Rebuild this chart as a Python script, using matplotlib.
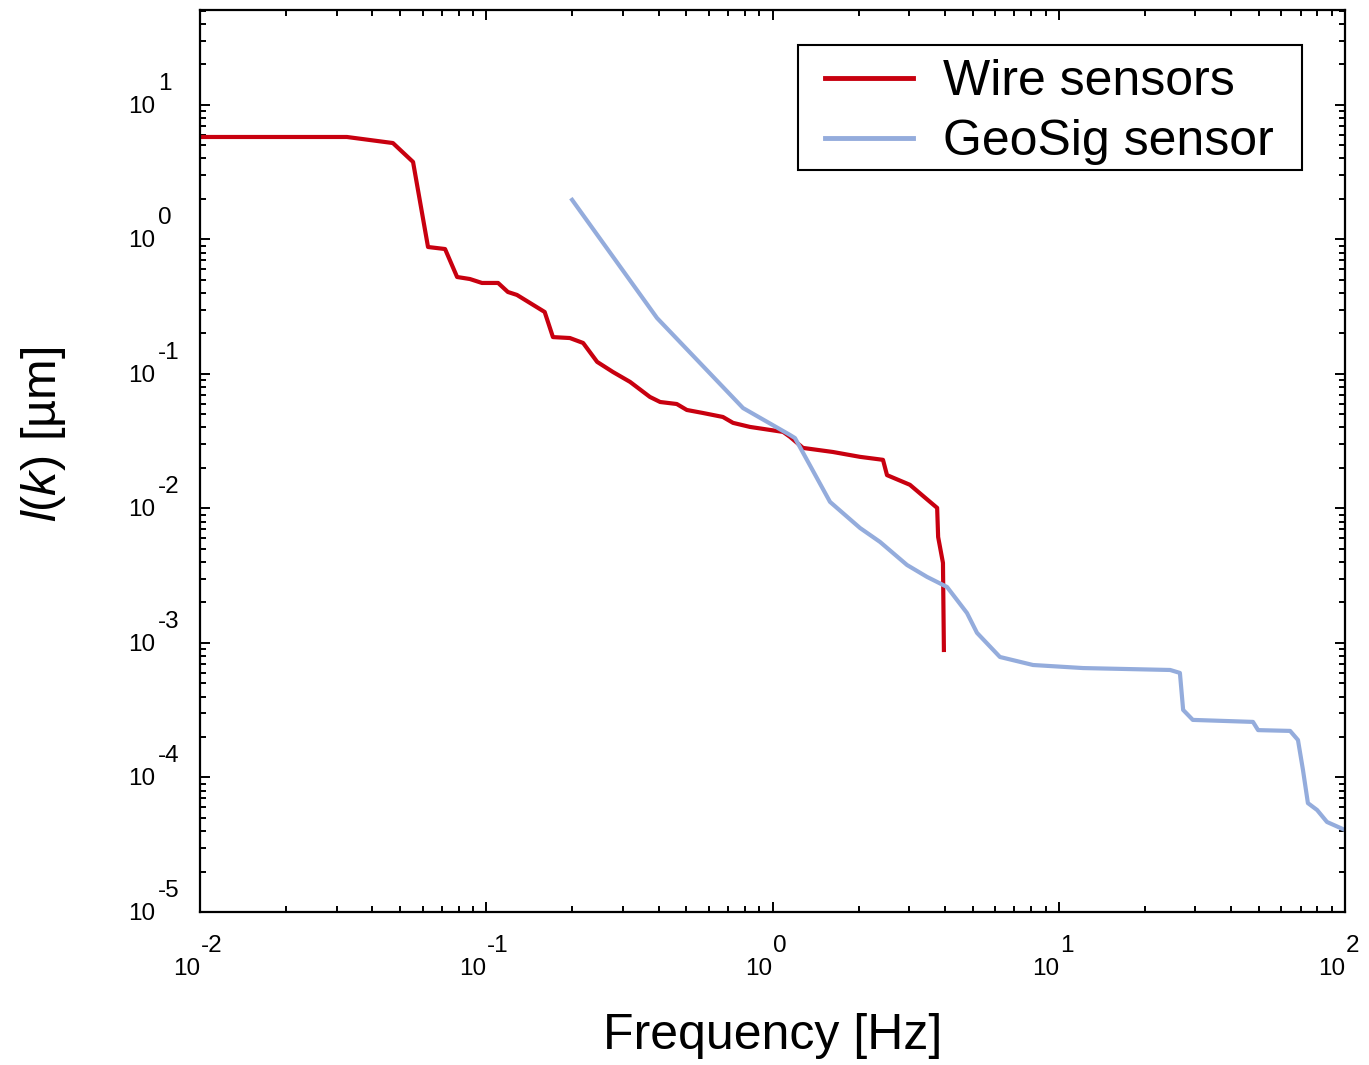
import numpy as np
import matplotlib
matplotlib.use("Agg")
import matplotlib.pyplot as plt
import matplotlib.transforms as mtransforms
from matplotlib.patches import Rectangle
from matplotlib.ticker import LogLocator, NullFormatter

plt.rcParams['font.family'] = ['Liberation Sans', 'DejaVu Sans']
plt.rcParams['mathtext.fontset'] = 'custom'
plt.rcParams['mathtext.rm'] = 'Liberation Sans'
plt.rcParams['mathtext.it'] = 'Liberation Sans:italic'

# wire sensors (frequency [Hz], l(k) [um])
wire_f = [0.01, 0.0326, 0.0472, 0.0555, 0.0626, 0.0718, 0.0791, 0.0877, 0.0966,
          0.110, 0.119, 0.128, 0.160, 0.171, 0.196, 0.218, 0.244, 0.277, 0.318,
          0.373, 0.405, 0.463, 0.502, 0.571, 0.671, 0.728, 0.834, 1.089, 1.151,
          1.278, 1.626, 2.022, 2.432, 2.512, 3.02, 3.55, 3.76, 3.79, 3.94, 3.97]
wire_v = [5.78, 5.78, 5.21, 3.77, 0.879, 0.849, 0.526, 0.508, 0.475, 0.475,
          0.407, 0.387, 0.289, 0.188, 0.185, 0.170, 0.123, 0.1035, 0.0873,
          0.0675, 0.0619, 0.0598, 0.0540, 0.0513, 0.0479, 0.0433, 0.0404,
          0.0371, 0.0341, 0.0282, 0.0263, 0.0242, 0.0230, 0.0177, 0.0150,
          0.0112, 0.0101, 0.00614, 0.00394, 0.000887]

# GeoSig sensor
geo_f = [0.1995, 0.395, 0.789, 1.151, 1.198, 1.588, 2.022, 2.375, 2.951, 3.466,
         4.07, 4.41, 4.78, 5.18, 6.23, 8.13, 12.16, 24.5, 26.5, 27.2, 29.4,
         47.7, 49.7, 64.3, 68.5, 71.3, 74.2, 79.9, 86.5, 100.0]
geo_v = [1.97, 0.2606, 0.0558, 0.0352, 0.0334, 0.0112, 0.00716, 0.00564,
         0.00380, 0.00310, 0.00261, 0.00209, 0.00167, 0.00119, 0.000787,
         0.000686, 0.000651, 0.000630, 0.000599, 0.000318, 0.000268, 0.000259,
         0.000225, 0.000222, 0.000190, 0.000114, 0.0000645, 0.0000573,
         0.0000467, 0.0000407]

x_decades = [-2, -1, 0, 1, 2]
y_decades = [-5, -4, -3, -2, -1, 0, 1]

fig = plt.figure(figsize=(13.69, 10.65), dpi=100)
ax = fig.add_axes([200 / 1369, 1 - 912 / 1065, 1145 / 1369, 902 / 1065])

ax.plot(wire_f, wire_v, color='#C8000F', lw=3, label='Wire sensors')
ax.plot(geo_f, geo_v, color='#94ACDC', lw=3, label='GeoSig sensor')

ax.set_xscale('log')
ax.set_yscale('log')
ax.set_xlim(1e-2, 1e2)
ax.set_ylim(1e-5, 10 ** 1.706)

for axis in (ax.xaxis, ax.yaxis):
    axis.set_major_locator(LogLocator(base=10, numticks=20))
    axis.set_minor_locator(LogLocator(base=10, subs=np.arange(2, 10), numticks=20))
    axis.set_minor_formatter(NullFormatter())

ax.tick_params(which='both', direction='in', top=True, right=True, width=1.4,
               labelbottom=False, labelleft=False)
ax.tick_params(which='major', length=7.5)
ax.tick_params(which='minor', length=4)
for s in ax.spines.values():
    s.set_linewidth(1.6)

# tick labels: "10" with a full-size raised exponent
tsize = 17.5
def px(dx, dy):
    return mtransforms.ScaledTranslation(dx / 100, dy / 100, fig.dpi_scale_trans)

xt = mtransforms.blended_transform_factory(ax.transData, ax.transAxes)
for e in x_decades:
    ax.text(10.0 ** e, 0, '10', transform=xt + px(0, -63), ha='right',
            va='baseline', fontsize=tsize, clip_on=False)
    ax.text(10.0 ** e, 0, str(e), transform=xt + px(1, -40),
            ha='left', va='baseline', fontsize=tsize, clip_on=False)

yt = mtransforms.blended_transform_factory(ax.transAxes, ax.transData)
for e in y_decades:
    ax.text(0, 10.0 ** e, '10', transform=yt + px(-45, -8), ha='right',
            va='baseline', fontsize=tsize, clip_on=False)
    ax.text(0, 10.0 ** e, str(e), transform=yt + px(-42, 15), ha='left',
            va='baseline', fontsize=tsize, clip_on=False)

ax.set_xlabel('Frequency [Hz]', fontsize=36)
ax.xaxis.set_label_coords(0.5, -0.112)
ax.set_ylabel(r'$l(k)$ [µm]', fontsize=35)
ax.yaxis.set_label_coords(-0.115, 0.529)

# legend: box drawn separately so that side padding is wider than top/bottom
box = Rectangle((598 / 1145, 742 / 902), 504 / 1145, 125 / 902, transform=ax.transAxes,
                facecolor='white', edgecolor='black', lw=1.5, zorder=4)
ax.add_patch(box)
leg = ax.legend(loc='upper left', bbox_to_anchor=(625 / 1145, 853 / 902), borderaxespad=0,
                fontsize=36, frameon=False, handlelength=1.75, handletextpad=0.6,
                borderpad=0, labelspacing=0.28)
leg.set_zorder(5)
for h in leg.get_lines():
    h.set_linewidth(3.5)

fig.savefig('out.png', dpi=100)
